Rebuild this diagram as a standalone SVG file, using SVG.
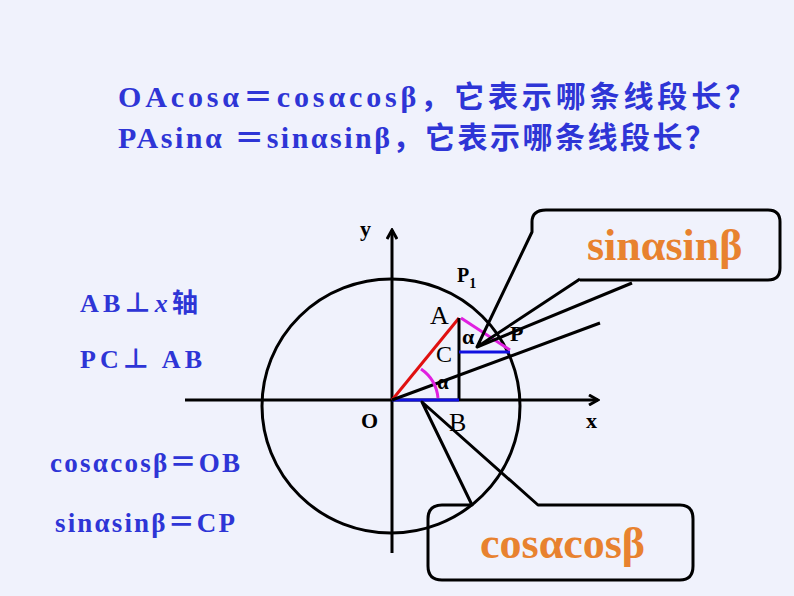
<svg xmlns="http://www.w3.org/2000/svg" width="794" height="596" viewBox="0 0 794 596">
<style>
.b{font-family:"Liberation Serif","Noto Sans CJK SC",serif;font-weight:bold;fill:#2e35d6}
.k{stroke:#000;stroke-width:3;fill:none}
.lb{font-family:"Liberation Serif",serif;fill:#000}
.o{font-family:"Liberation Serif",serif;font-weight:bold;fill:#e8822f;font-size:44px}
</style>
<rect width="794" height="596" fill="#f0f2fc"/>
<text class="b" x="118" y="107" font-size="30" textLength="637" lengthAdjust="spacing">OAcosα＝cosαcosβ，它表示哪条线段长？</text>
<text class="b" x="118" y="148" font-size="30" textLength="597" lengthAdjust="spacing">PAsinα ＝sinαsinβ，它表示哪条线段长？</text>
<text class="b" x="80" y="312" font-size="26" textLength="118" lengthAdjust="spacing">AB⊥<tspan font-style="italic">x</tspan>轴</text>
<text class="b" x="80" y="368" font-size="26" textLength="122" lengthAdjust="spacing">PC⊥ AB</text>
<text class="b" x="50" y="472" font-size="27" textLength="190" lengthAdjust="spacing">cosαcosβ＝OB</text>
<text class="b" x="55" y="532" font-size="27" textLength="180" lengthAdjust="spacing">sinαsinβ＝CP</text>
<defs><marker id="ar" markerWidth="12" markerHeight="12" refX="10" refY="6" orient="auto" markerUnits="userSpaceOnUse"><path d="M1,1 L10,6 L1,11" fill="none" stroke="#000" stroke-width="3"/></marker></defs>
<g id="axes">
<line class="k" x1="185" y1="400" x2="598" y2="400" marker-end="url(#ar)"/>
<line class="k" x1="392" y1="553" x2="392" y2="230" marker-end="url(#ar)"/>
<ellipse class="k" cx="391" cy="406" rx="129" ry="127"/>
</g>
<g id="figure">
<line x1="392" y1="400" x2="459" y2="318" stroke="#e01010" stroke-width="3"/>
<line class="k" x1="459" y1="318" x2="459" y2="400"/>
<line x1="392" y1="400" x2="459" y2="400" stroke="#1010e0" stroke-width="3"/>
<line x1="459" y1="352" x2="510" y2="352" stroke="#1010e0" stroke-width="3"/>
<line class="k" x1="392" y1="400" x2="600" y2="323"/>
<path d="M421,369 A40,40 0 0 1 438,398" stroke="#e020e0" stroke-width="3" fill="none"/>
<line x1="461" y1="318" x2="510" y2="350" stroke="#e020e0" stroke-width="3"/>
</g>
<g id="labels">
<text class="lb" x="360" y="236" font-size="22" font-weight="bold">y</text>
<text class="lb" x="457" y="282" font-size="20" font-weight="bold">P<tspan font-size="14" dy="6">1</tspan></text>
<text class="lb" x="430" y="324" font-size="26">A</text>
<text class="lb" x="462" y="344" font-size="22" font-weight="bold">α</text>
<text class="lb" x="510" y="341" font-size="22" font-weight="bold">P</text>
<text class="lb" x="436" y="362" font-size="24">C</text>
<text class="lb" x="437" y="389" font-size="21" font-weight="bold">α</text>
<text class="lb" x="361" y="428" font-size="22" font-weight="bold">O</text>
<text class="lb" x="449" y="431" font-size="26">B</text>
<text class="lb" x="586" y="428" font-size="22" font-weight="bold">x</text>
</g>
<g id="callout-sin">
<path class="k" d="M580,279 L477,347 L532,232 L532,222 Q532,210 546,210 L768,210 Q780,210 780,222 L780,268 Q780,280 768,280 L580,280" stroke-linejoin="round"/>
<line class="k" x1="477" y1="347" x2="632" y2="283"/>
<text class="o" x="587" y="260">sinαsinβ</text>
</g>
<g id="callout-cos">
<path class="k" d="M538,505 L422,402 L472,505 L442,505 Q428,505 428,519 L428,566 Q428,580 442,580 L680,580 Q693,580 693,566 L693,519 Q693,505 680,505 Z" stroke-linejoin="round"/>
<text class="o" x="480" y="558">cosαcosβ</text>
</g>
</svg>
